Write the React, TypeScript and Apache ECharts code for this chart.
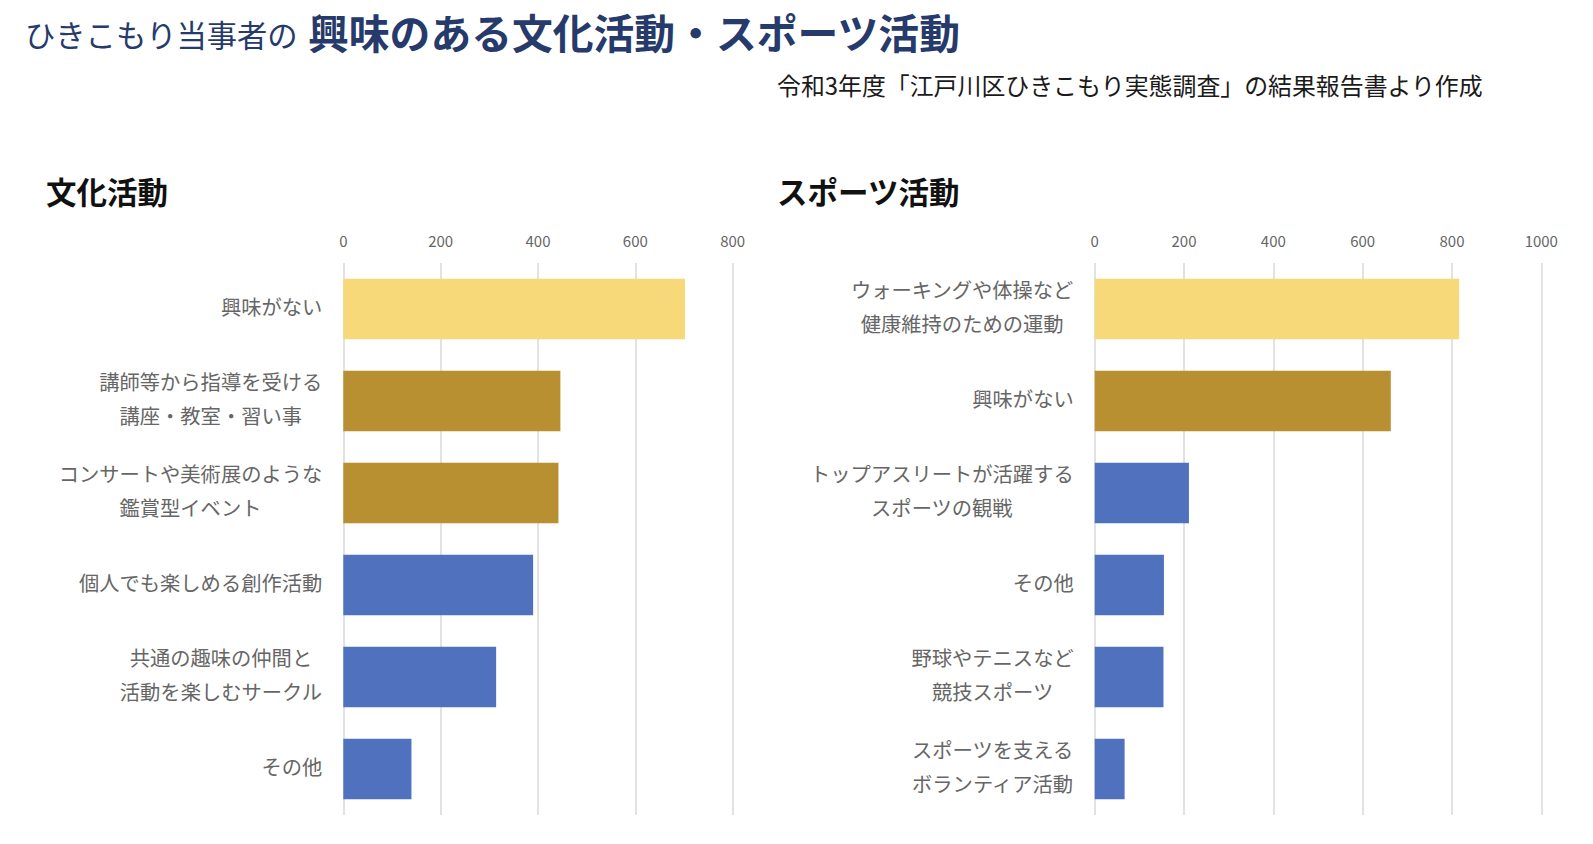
import React, { useEffect, useRef } from "react";
import * as echarts from "echarts";

const cultureCategories = [
  "興味がない",
  "講師等から指導を受ける\n講座・教室・習い事",
  "コンサートや美術展のような\n鑑賞型イベント",
  "個人でも楽しめる創作活動",
  "共通の趣味の仲間と\n活動を楽しむサークル",
  "その他",
];
const cultureValues = [702, 446, 442, 390, 314, 140];
const cultureColorKeys = ["light", "gold", "gold", "blue", "blue", "blue"];

const sportsCategories = [
  "ウォーキングや体操など\n健康維持のための運動",
  "興味がない",
  "トップアスリートが活躍する\nスポーツの観戦",
  "その他",
  "野球やテニスなど\n競技スポーツ",
  "スポーツを支える\nボランティア活動",
];
const sportsValues = [816, 663, 211, 155, 154, 67];
const sportsColorKeys = ["light", "gold", "blue", "blue", "blue", "blue"];

const cultureTicks = [0, 800, 200];
const sportsTicks = [0, 1000, 200];

const palette: Record<string, string> = {
  light: "#F7D97A",
  gold: "#B89032",
  blue: "#5071BE",
};

const FONT = '"Noto Sans CJK JP", "Noto Sans", sans-serif';

export default function App() {
  const ref = useRef<HTMLDivElement>(null);
  useEffect(() => {
    if (!ref.current) return;
    const chart = echarts.init(ref.current, null, { renderer: "svg" });
    const labelFormatter = (v: string) =>
      v
        .split("\n")
        .map((l) => `{a|${l}}`)
        .join("\n");
    const catAxis = (idx: number, data: string[]) => ({
      type: "category",
      gridIndex: idx,
      data,
      inverse: true,
      axisLine: { show: false },
      axisTick: { show: false },
      axisLabel: {
        margin: 21,
        align: "right",
        padding: [0, 0, 6, 0],
        formatter: labelFormatter,
        rich: {
          a: {
            align: "center",
            fontSize: 20.3,
            lineHeight: 34,
            color: "#666666",
            fontFamily: FONT,
          },
        },
      },
    });
    const valAxis = (idx: number, ticks: number[]) => ({
      type: "value",
      gridIndex: idx,
      position: "top",
      min: ticks[0],
      max: ticks[1],
      interval: ticks[2],
      axisLine: { show: false },
      axisTick: { show: false },
      splitLine: { lineStyle: { color: "#D9D9D9", width: 1.5 } },
      axisLabel: {
        margin: 15,
        fontSize: 15,
        color: "#666666",
        fontFamily: FONT,
        formatter: (v: number) => String(v),
      },
    });
    chart.setOption({
      animation: false,
      backgroundColor: "#ffffff",
      textStyle: { fontFamily: FONT },
      grid: [
        { left: 343.3, width: 389.4, top: 263, height: 552 },
        { left: 1094.7, width: 446.6, top: 263, height: 552 },
      ],
      xAxis: [valAxis(0, cultureTicks), valAxis(1, sportsTicks)],
      yAxis: [catAxis(0, cultureCategories), catAxis(1, sportsCategories)],
      series: [
        {
          type: "bar",
          xAxisIndex: 0,
          yAxisIndex: 0,
          barCategoryGap: "34%",
          data: cultureValues.map((v, i) => ({
            value: v,
            itemStyle: { color: palette[cultureColorKeys[i]] },
          })),
        },
        {
          type: "bar",
          xAxisIndex: 1,
          yAxisIndex: 1,
          barCategoryGap: "34%",
          data: sportsValues.map((v, i) => ({
            value: v,
            itemStyle: { color: palette[sportsColorKeys[i]] },
          })),
        },
      ],
      graphic: [
        {
          type: "text",
          left: 25,
          top: 19,
          style: {
            text: "ひきこもり当事者の",
            fontSize: 30.3,
            fill: "#263A6B",
            fontFamily: FONT,
          },
        },
        {
          type: "text",
          left: 308,
          top: 11,
          style: {
            text: "興味のある文化活動・スポーツ活動",
            fontSize: 40.8,
            fontWeight: "bold",
            fill: "#263A6B",
            fontFamily: FONT,
          },
        },
        {
          type: "text",
          left: 777,
          top: 73,
          style: {
            text: "令和3年度「江戸川区ひきこもり実態調査」の結果報告書より作成",
            fontSize: 23.9,
            fill: "#1a1a1a",
            fontFamily: FONT,
          },
        },
        {
          type: "text",
          left: 46,
          top: 176,
          style: {
            text: "文化活動",
            fontSize: 30.5,
            fontWeight: "bold",
            fill: "#111111",
            fontFamily: FONT,
          },
        },
        {
          type: "text",
          left: 777,
          top: 176,
          style: {
            text: "スポーツ活動",
            fontSize: 30.5,
            fontWeight: "bold",
            fill: "#111111",
            fontFamily: FONT,
          },
        },
      ],
    });
    return () => chart.dispose();
  }, []);
  return (
    <div
      ref={ref}
      style={{
        position: "fixed",
        left: 0,
        top: 0,
        width: 1593,
        height: 844,
        background: "#fff",
      }}
    />
  );
}
